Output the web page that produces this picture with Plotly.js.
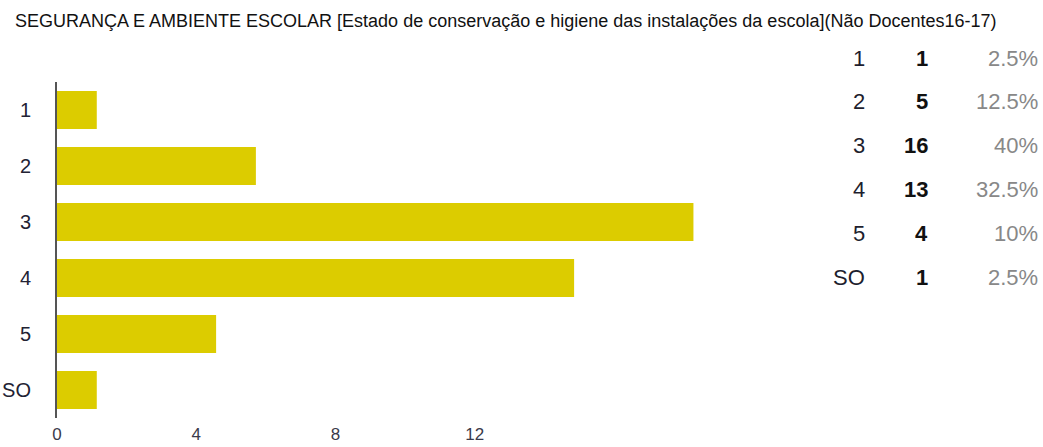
<!DOCTYPE html>
<html>
<head>
<meta charset="utf-8">
<script src="https://cdn.plot.ly/plotly-3.0.1.min.js"></script>
<style>html,body{margin:0;padding:0;background:#fff;}#chart{width:1043px;height:447px;}</style>
</head>
<body>
<div id="chart"></div>
<script>
var categories = ['1', '2', '3', '4', '5', 'SO'];
var counts = [1, 5, 16, 13, 4, 1];
var percents = ['2.5%', '12.5%', '40%', '32.5%', '10%', '2.5%'];
var xTickLabels = ['0', '4', '8', '12'];
var titleText = 'SEGURANÇA E AMBIENTE ESCOLAR [Estado de conservação e higiene das instalações da escola](Não Docentes16-17)';

var W = 1043, H = 447;
var M = {l: 57, r: 270, t: 82, b: 29};
var plotW = W - M.l - M.r, plotH = H - M.t - M.b;
function px(x) { return (x - M.l) / plotW; }
function py(y) { return (H - M.b - y) / plotH; }

var tableFont = 'Liberation Sans, Arial, sans-serif';
var annotations = [];
var rowY0 = 58, rowStep = 43.9;
categories.forEach(function (c, i) {
  var y = py(rowY0 + i * rowStep);
  annotations.push({xref: 'paper', yref: 'paper', x: px(867), y: y, xanchor: 'right', yanchor: 'middle',
    text: c, showarrow: false, font: {family: tableFont, size: 22, color: '#1e1e2e'}});
  annotations.push({xref: 'paper', yref: 'paper', x: px(930), y: y, xanchor: 'right', yanchor: 'middle',
    text: '<b>' + counts[i] + '</b>', showarrow: false, font: {family: tableFont, size: 22, color: '#111111'}});
  annotations.push({xref: 'paper', yref: 'paper', x: px(1040), y: y, xanchor: 'right', yanchor: 'middle',
    text: percents[i], showarrow: false, font: {family: tableFont, size: 22, color: '#888888'}});
});
annotations.push({xref: 'paper', yref: 'paper', x: px(13), y: py(21), xanchor: 'left', yanchor: 'middle',
  text: titleText, showarrow: false,
  font: {family: 'Liberation Sans, Arial, sans-serif', size: 18, color: '#111111'}});

// tick labels are drawn where the reference places them (compressed spacing)
var tickPos = xTickLabels.map(function (t) { return parseFloat(t) * 0.875; });

var trace = {
  type: 'bar',
  orientation: 'h',
  x: counts,
  y: categories,
  marker: {color: '#dccc00', line: {width: 0}},
  hoverinfo: 'x+y'
};

var layout = {
  width: W, height: H,
  margin: M,
  paper_bgcolor: '#ffffff',
  plot_bgcolor: '#ffffff',
  showlegend: false,
  bargap: 0.32,
  xaxis: {
    range: [0, 18],
    showgrid: false, zeroline: false, showline: false,
    tickmode: 'array', tickvals: tickPos, ticktext: xTickLabels,
    ticks: '', ticklabelstandoff: 4,
    tickfont: {family: 'Liberation Sans, Arial', size: 17, color: '#3a3a4a'},
    fixedrange: true
  },
  yaxis: {
    type: 'category',
    autorange: 'reversed',
    showgrid: false, zeroline: false,
    showline: true, linecolor: '#555555', linewidth: 2,
    ticks: '', ticklabelstandoff: 20,
    tickfont: {family: 'Liberation Sans, Arial', size: 20, color: '#222233'},
    fixedrange: true
  },
  annotations: annotations
};

Plotly.newPlot('chart', [trace], layout, {displayModeBar: false, staticPlot: true});
</script>
</body>
</html>
